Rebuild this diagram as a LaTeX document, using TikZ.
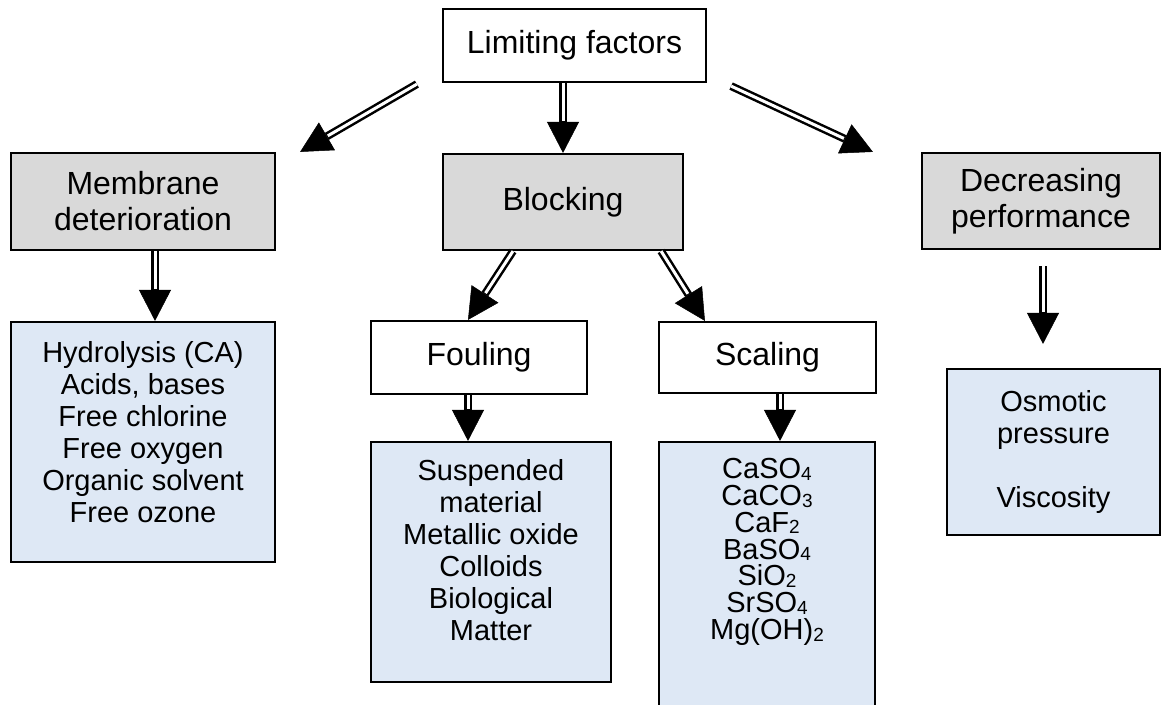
\documentclass[tikz,border=0pt]{standalone}
\usepackage{fontspec}
\setmainfont{Liberation Sans}
\usetikzlibrary{arrows.meta,calc}
\definecolor{headgray}{RGB}{217,217,217}
\definecolor{listblue}{RGB}{222,232,245}
\newcommand{\chemsub}[1]{\raisebox{-0.1ex}{\fontsize{19}{19}\selectfont#1}}
\tikzset{
  box/.style={draw, fill=white, line width=2.2pt, align=center, inner sep=0pt,
    font=\fontsize{32}{36}\selectfont},
  headbox/.style={box, fill=headgray},
  listbox/.style={box, fill=listblue, font=\fontsize{29}{32}\selectfont},
  txt/.style={align=center, inner sep=0pt, font=\fontsize{29}{32}\selectfont},
  dblarrow/.style={line width=8pt, -{Triangle[width=32pt,length=31pt,line width=0.5pt]},
    postaction={draw=white, line width=3pt, -, shorten >=32pt}}
}
\begin{document}
\begin{tikzpicture}[x=1pt,y=-1pt]
    \useasboundingbox (0,0) rectangle (1161,704);
    \clip (0,0) rectangle (1161,704);

    \node[box, minimum width=263pt, minimum height=73pt] (lim) at (574.5,45.5) {Limiting factors};

    \node[headbox, minimum width=264pt, minimum height=97pt] (memb) at (143,201.5) {Membrane\\deterioration};
    \node[headbox, minimum width=240pt, minimum height=96pt] (block) at (563,202) {Blocking};
    \node[headbox, minimum width=238pt, minimum height=96pt] (decr) at (1041,201) {Decreasing\\performance};

    \node[box, minimum width=216pt, minimum height=73pt] (foul) at (479,357.5) {Fouling};
    \node[box, minimum width=217pt, minimum height=71pt] (scal) at (767.5,357.5) {Scaling};

    \node[listbox, minimum width=264pt, minimum height=240pt] (hydro) at (143,442) {};
    \node[txt] (hydrotxt) at (143,432) {Hydrolysis (CA)\\Acids, bases\\Free chlorine\\Free oxygen\\Organic solvent\\Free ozone};
    \node[listbox, minimum width=240pt, minimum height=240pt] (susp) at (491,562) {};
    \node[txt] (susptxt) at (491,550) {Suspended\\material\\Metallic oxide\\Colloids\\Biological\\Matter};
    \node[listbox, minimum width=216pt, minimum height=320pt] (salts) at (767,602) {};
    \node[txt, font=\fontsize{29}{26.8}\selectfont] (saltstxt) at (767,552) {CaSO\chemsub{4}\\CaCO\chemsub{3}\\CaF\chemsub{2}\\BaSO\chemsub{4}\\SiO\chemsub{2}\\SrSO\chemsub{4}\\Mg(OH)\chemsub{2}};
    \node[listbox, minimum width=213pt, minimum height=166pt] (osmo) at (1053.5,452) {Osmotic\\pressure\\[32pt]Viscosity};

    \draw[dblarrow] ($(lim.south west)+(-25,1)$) -- ($(memb.north east)+(24,0)$);
    \draw[dblarrow] (block.north |- lim.south) -- (block.north);
    \draw[dblarrow] ($(lim.south east)+(24,3)$) -- ($(decr.north west)+(-48,0)$);
    \draw[dblarrow] ($(memb.south)+(12,0)$) -- ($(hydro.north)+(12,0)$);
    \draw[dblarrow] ($(block.south)+(-50,0)$) -- ($(foul.north)+(-11,0)$);
    \draw[dblarrow] ($(block.south east)+(-23,0)$) -- ($(scal.north west)+(47,0)$);
    \draw[dblarrow] ($(foul.south)+(-11,0)$) -- ($(susp.north)+(-23,0)$);
    \draw[dblarrow] ($(scal.south)+(12.5,0)$) -- ($(salts.north)+(13,0)$);
    \draw[dblarrow] ($(decr.south)+(2,16)$) -- ($(osmo.north)+(-10.5,-24)$);
  \end{tikzpicture}
\end{document}
